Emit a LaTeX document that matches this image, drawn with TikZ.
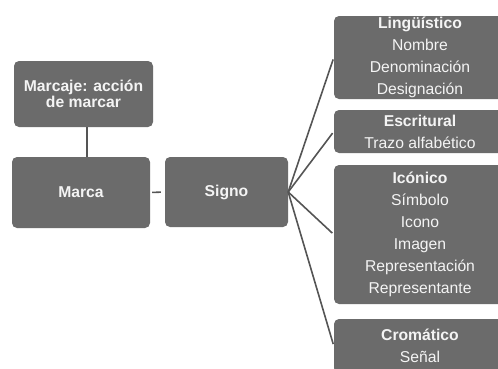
\documentclass[tikz,border=0pt]{standalone}
\usepackage{fontspec}
\setmainfont{Liberation Sans}
\definecolor{boxgray}{HTML}{6B6B6B}
\definecolor{boxtext}{HTML}{F4F4F4}
\definecolor{linegray}{HTML}{555555}
\begin{document}
\begin{tikzpicture}[x=1pt,y=-1pt,
  box/.style={fill=boxgray, rounded corners=5pt, text=boxtext, align=center,
    inner sep=0pt, font=\fontsize{15.7}{22}\selectfont},
  link/.style={draw=linegray, line width=1.6pt}]
\clip (0,0) rectangle (498,368);

% left column
\node[box, minimum width=139pt, minimum height=66pt,
      font=\fontsize{15.7}{16.5}\selectfont] (marcaje) at (83.5,94)
  {\textbf{Marcaje: acción}\\\textbf{de marcar}};
\node[box, minimum width=138pt, minimum height=71pt] (marca) at (81,192.5)
  {\textbf{Marca}};
\node[box, minimum width=123pt, minimum height=70pt] (signo) at (226.5,192)
  {\textbf{Signo}};

% right column, running off the right edge
\node[box, minimum width=172pt, minimum height=83pt] (ling) at (420,57.5)
  {\textbf{Lingüístico}\\Nombre\\Denominación\\Designación};
\node[box, minimum width=172pt, minimum height=43pt] (escr) at (420,131.5)
  {\textbf{Escritural}\\Trazo alfabético};
\node[box, minimum width=172pt, minimum height=139pt] (icon) at (420,234.5)
  {\textbf{Icónico}\\Símbolo\\Icono\\Imagen\\Representación\\Representante};
\node[box, minimum width=172pt, minimum height=54pt] (crom) at (420,346)
  {\textbf{Cromático}\\Señal};

% connectors
\coordinate (drop) at ([xshift=3.5pt]marcaje.south);
\draw[link] (drop) -- (drop |- marca.north);
\draw[link, shorten <=2pt, shorten >=4pt] (marca.east) -- (signo.west);
\foreach \t in {ling,escr,icon,crom}
  \draw[link, shorten >=2pt] (signo.east) -- (\t.west);
\end{tikzpicture}
\end{document}
